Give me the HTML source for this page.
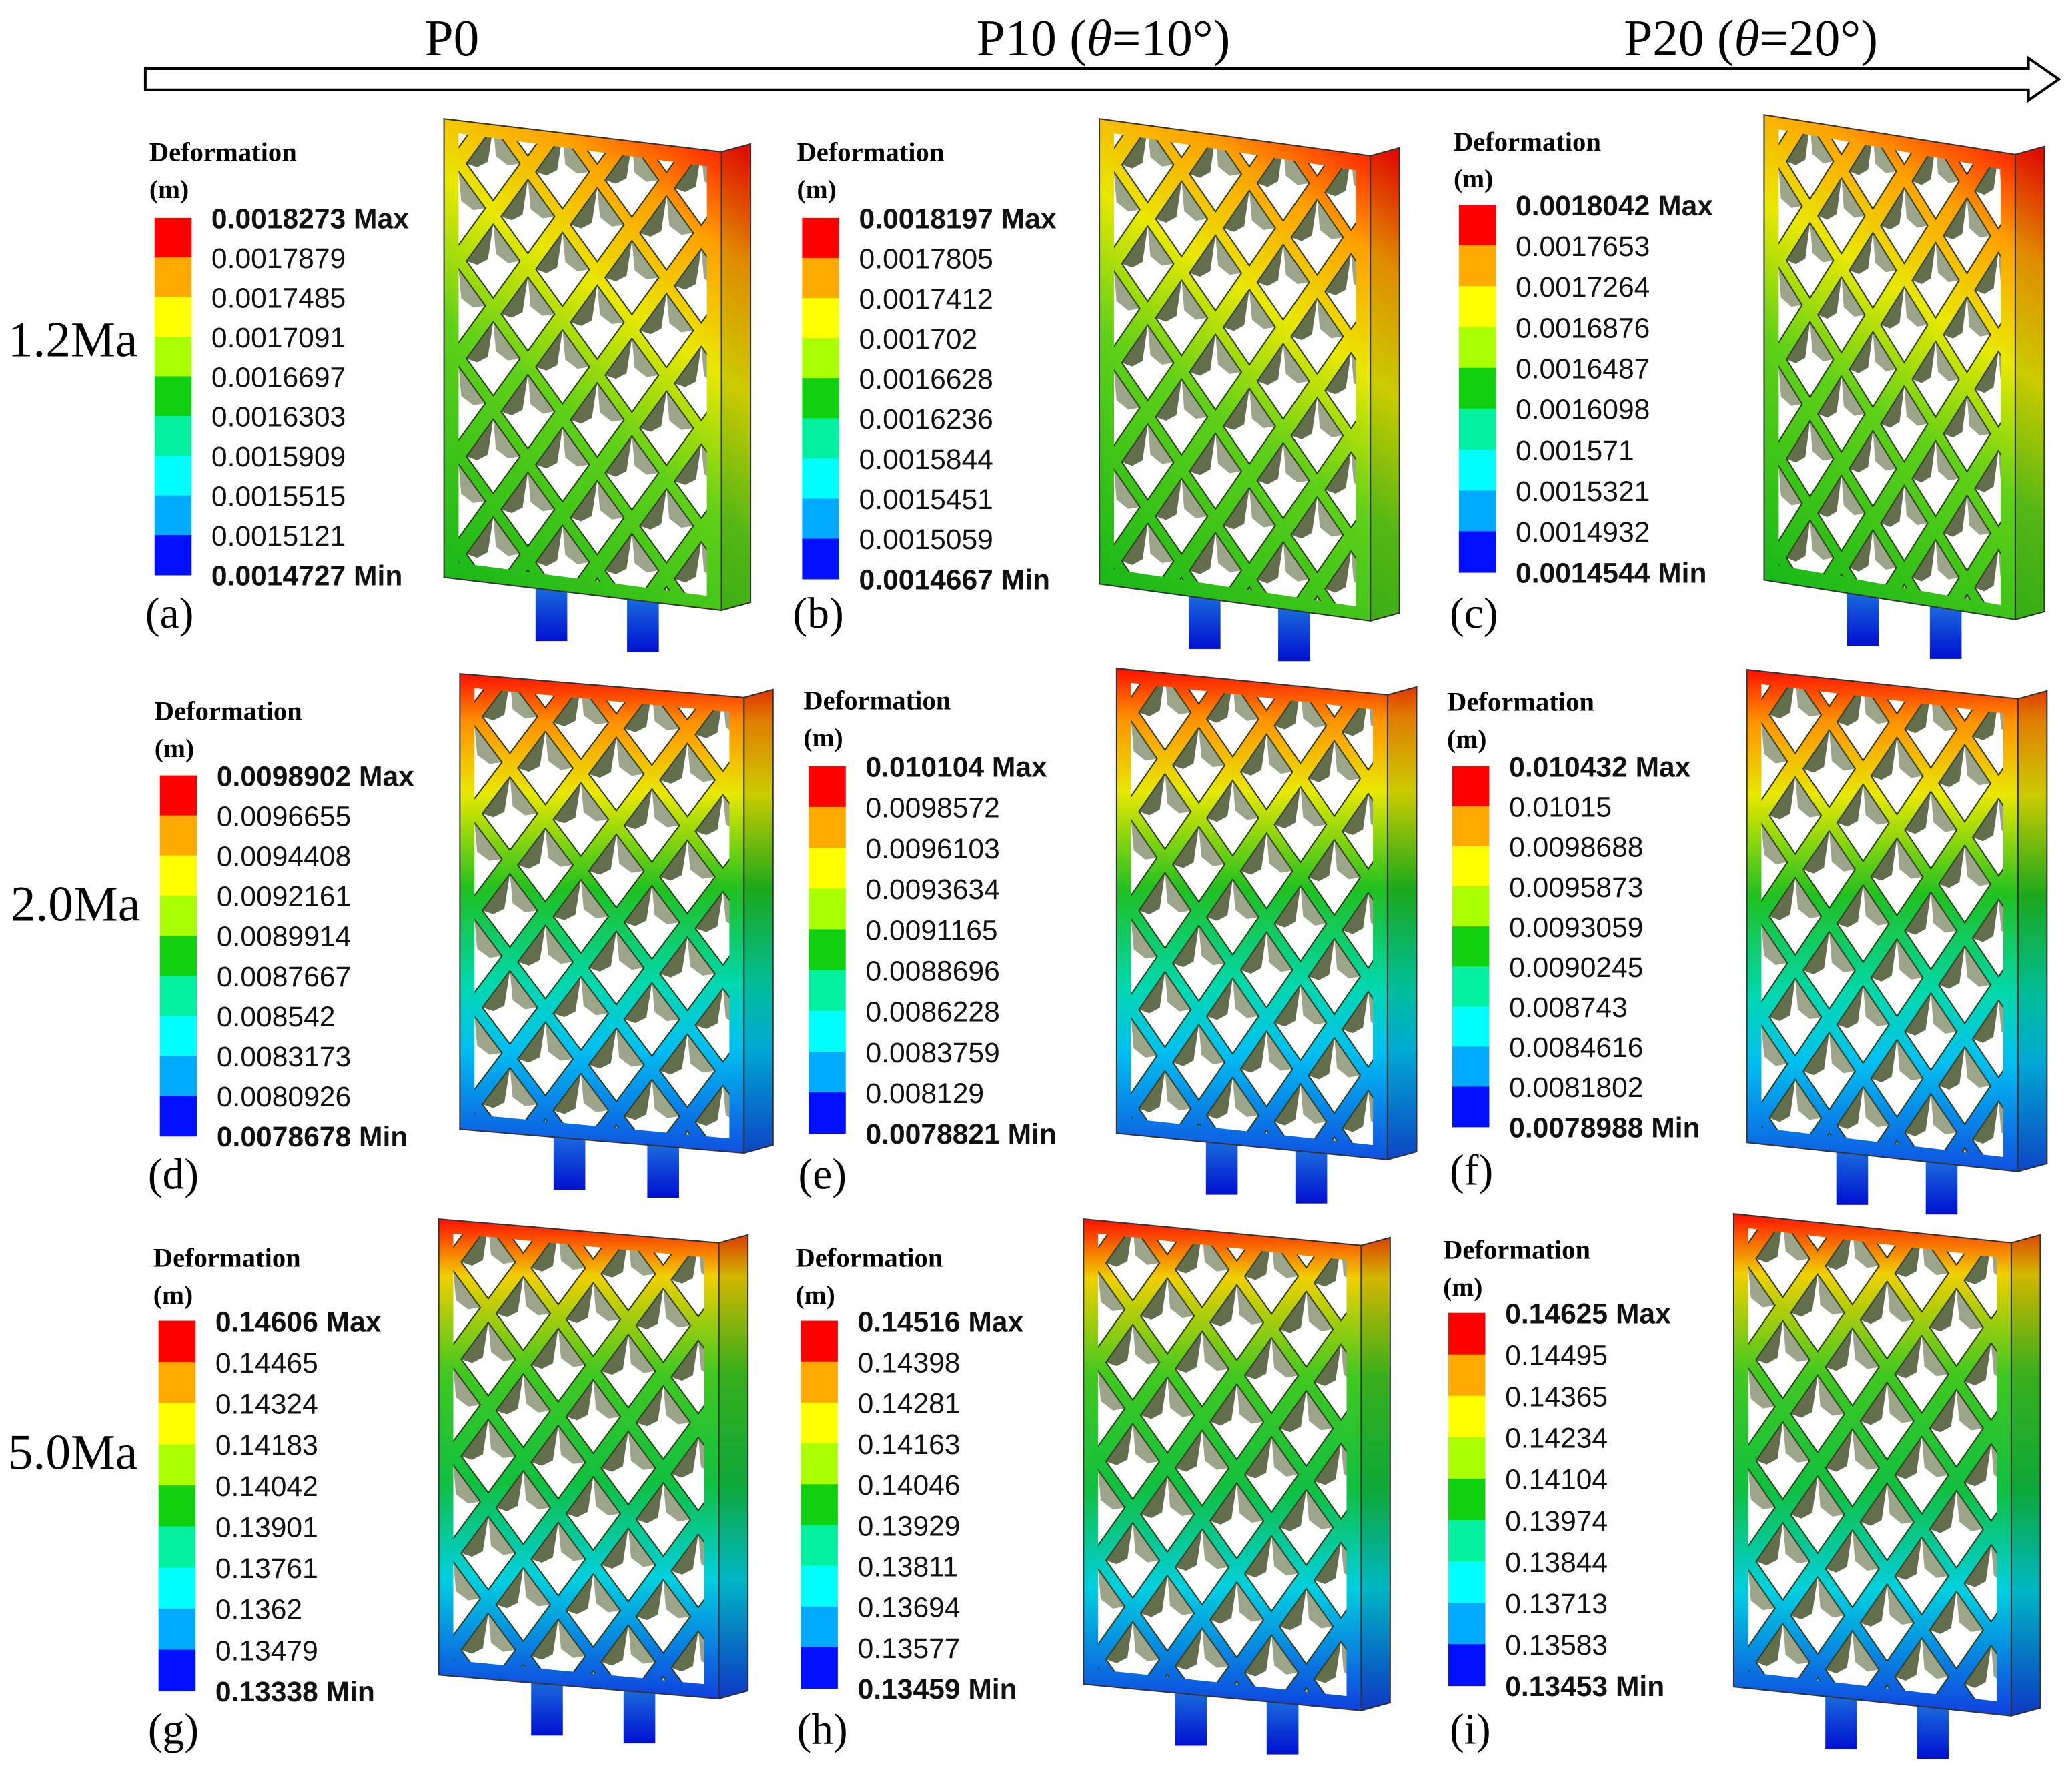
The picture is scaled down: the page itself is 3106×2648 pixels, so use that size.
<!DOCTYPE html>
<html><head><meta charset="utf-8">
<style>html,body{margin:0;padding:0;background:#fff;width:3106px;height:2648px;overflow:hidden}svg{display:block}</style></head>
<body>
<svg id="fig" width="3106" height="2648" viewBox="0 0 1568 1337" preserveAspectRatio="none" xmlns="http://www.w3.org/2000/svg">
<defs>
<linearGradient id="foot" x1="0" y1="0" x2="0" y2="1"><stop offset="0" stop-color="#2080e0"/><stop offset="1" stop-color="#0010d0"/></linearGradient>
</defs>
<g>
<polygon points="110,52 1535,52 1535,44 1558,60 1535,76 1535,68 110,68" fill="#fff" stroke="#000" stroke-width="2"/>
</g>
<g font-family="Liberation Serif, serif" font-size="39" fill="#000">
<text x="342" y="42" text-anchor="middle">P0</text>
<text x="835" y="42" text-anchor="middle">P10 (<tspan font-style="italic">θ</tspan>=10°)</text>
<text x="1325" y="42" text-anchor="middle">P20 (<tspan font-style="italic">θ</tspan>=20°)</text>
<text x="6" y="270" font-size="38">1.2Ma</text>
<text x="8" y="697" font-size="38">2.0Ma</text>
<text x="6" y="1112" font-size="38">5.0Ma</text>
</g>
<g id="panels"></g>
</svg>
<script>
const legendA=["0.0018273","0.0017879","0.0017485","0.0017091","0.0016697","0.0016303","0.0015909","0.0015515","0.0015121","0.0014727"];
const legendB=["0.0018197","0.0017805","0.0017412","0.001702","0.0016628","0.0016236","0.0015844","0.0015451","0.0015059","0.0014667"];
const legendC=["0.0018042","0.0017653","0.0017264","0.0016876","0.0016487","0.0016098","0.001571","0.0015321","0.0014932","0.0014544"];
const legendD=["0.0098902","0.0096655","0.0094408","0.0092161","0.0089914","0.0087667","0.008542","0.0083173","0.0080926","0.0078678"];
const legendE=["0.010104","0.0098572","0.0096103","0.0093634","0.0091165","0.0088696","0.0086228","0.0083759","0.008129","0.0078821"];
const legendF=["0.010432","0.01015","0.0098688","0.0095873","0.0093059","0.0090245","0.008743","0.0084616","0.0081802","0.0078988"];
const legendG=["0.14606","0.14465","0.14324","0.14183","0.14042","0.13901","0.13761","0.1362","0.13479","0.13338"];
const legendH=["0.14516","0.14398","0.14281","0.14163","0.14046","0.13929","0.13811","0.13694","0.13577","0.13459"];
const legendI=["0.14625","0.14495","0.14365","0.14234","0.14104","0.13974","0.13844","0.13713","0.13583","0.13453"];
const bandColors=["#ff0000","#ffaa00","#ffff00","#aaff00","#10d010","#00f0a0","#00ffff","#00aaff","#0010ff"];
const NS="http://www.w3.org/2000/svg";
const root=document.getElementById('panels');
const defs=document.querySelector('defs');
function el(t,a,p){const e=document.createElementNS(NS,t);for(const k in a)e.setAttribute(k,a[k]);(p||root).appendChild(e);return e;}
const grads={
 r1:[[0,"#18b818"],[0.4,"#60d018"],[0.62,"#e8e800"],[0.82,"#ffa000"],[1,"#ff1000"]],
 r2:[[0,"#ff1000"],[0.1,"#ff9000"],[0.25,"#e8e800"],[0.45,"#20c020"],[0.65,"#00d8b0"],[0.78,"#00c0f0"],[1,"#1050e0"]],
 r3:[[0,"#ff1000"],[0.12,"#f0d000"],[0.32,"#40c820"],[0.55,"#10c040"],[0.75,"#00d0e0"],[1,"#1040e0"]]
};
const panels=[
 {id:"a",leg:legendA,lx:113,ty:115,bt:165,bb:435,sx:336,sy:90,w:210,h:347,dy:25,g:"r1",lt:[110,465]},
 {id:"b",leg:legendB,lx:603,ty:115,bt:165,bb:438,sx:832,sy:90,w:205,h:352,dy:28,g:"r1",lt:[600,465]},
 {id:"c",leg:legendC,lx:1100,ty:107,bt:155,bb:433,sx:1335,sy:87,w:190,h:352,dy:30,g:"r1",lt:[1097,465]},
 {id:"d",leg:legendD,lx:117,ty:538,bt:587,bb:860,sx:348,sy:510,w:215,h:345,dy:18,g:"r2",lt:[112,890]},
 {id:"e",leg:legendE,lx:608,ty:530,bt:580,bb:858,sx:845,sy:506,w:205,h:352,dy:20,g:"r2",lt:[604,890]},
 {id:"f",leg:legendF,lx:1095,ty:531,bt:580,bb:853,sx:1322,sy:507,w:205,h:358,dy:22,g:"r2",lt:[1097,887]},
 {id:"g",leg:legendG,lx:116,ty:952,bt:1000,bb:1280,sx:332,sy:923,w:212,h:345,dy:18,g:"r3",lt:[112,1310]},
 {id:"h",leg:legendH,lx:602,ty:952,bt:1000,bb:1278,sx:820,sy:923,w:210,h:352,dy:20,g:"r3",lt:[603,1310]},
 {id:"i",leg:legendI,lx:1092,ty:946,bt:994,bb:1276,sx:1312,sy:919,w:210,h:358,dy:22,g:"r3",lt:[1097,1310]}
];
panels.forEach(p=>{
 const g=el('g',{});
 
 
 const t1=el('text',{x:p.lx,y:p.ty+7,'font-family':'Liberation Serif, serif','font-weight':'bold','font-size':20.5},g);
 t1.textContent='Deformation';
 
 
 const t2=el('text',{x:p.lx,y:p.ty+35,'font-family':'Liberation Serif, serif','font-weight':'bold','font-size':20},g);
 t2.textContent='(m)';
 
 
 const bx=p.lx+4, step=(p.bb-p.bt)/9;
 bandColors.forEach((c,i)=>{
  const r=el('rect',{x:bx,y:p.bt+i*step,width:28,height:step+0.5,fill:c},g);
  
  
 });
 p.leg.forEach((v,i)=>{
  const last=i===p.leg.length-1, first=i===0;
  const t=el('text',{x:bx+43,y:p.bt+i*step+8,'font-family':'Liberation Sans, sans-serif','font-size':21.5,'font-weight':(first||last)?'bold':'normal',fill:'#111'},g);
  t.textContent=v+(first?' Max':last?' Min':'');
  
  
 });
 const lt=el('text',{x:p.lt[0],y:p.lt[1]+10,'font-family':'Liberation Serif, serif','font-size':33},g);
 lt.textContent='('+p.id+')';
 
 
 const isDiag=p.g==="r1";
 const gr=el('linearGradient',{id:'gr'+p.id,gradientUnits:'userSpaceOnUse',x1:isDiag?p.sx:p.sx+p.w/2,y1:isDiag?p.sy+p.h:p.sy,x2:isDiag?p.sx+p.w+20:p.sx+p.w/2,y2:isDiag?p.sy+p.dy:p.sy+p.h+p.dy},defs);
 grads[p.g].forEach(s=>el('stop',{offset:s[0],'stop-color':s[1]},gr));
 const {sx,sy,w,h,dy}=p, sd=22;
 const st=el('g',{},g);
 
 
 [0.33,0.66].forEach(f=>{
  const fx=sx+w*f;
  const fy=sy+h+dy*f-10;
  const r=el('rect',{x:fx,y:fy,width:24,height:Math.min(50,1334-fy),fill:'url(#foot)'},st);
  
  
 });
 el('polygon',{points:`${sx+w},${sy+dy} ${sx+w+sd},${sy+dy-6} ${sx+w+sd},${sy+h+dy-6} ${sx+w},${sy+h+dy}`,fill:'url(#gr'+p.id+')',stroke:'#333','stroke-width':1},st);
 el('polygon',{points:`${sx+w},${sy+dy} ${sx+w+sd},${sy+dy-6} ${sx+w+sd},${sy+h+dy-6} ${sx+w},${sy+h+dy}`,fill:'#000',opacity:0.12},st);
 el('polygon',{points:`${sx},${sy} ${sx+w},${sy+dy} ${sx+w},${sy+h+dy} ${sx},${sy+h}`,fill:'url(#gr'+p.id+')',stroke:'#333','stroke-width':1},st);
 const cp=el('clipPath',{id:'cp'+p.id},defs);
 const ins=11;
 el('polygon',{points:`${sx+ins},${sy+ins} ${sx+w-ins},${sy+dy+ins} ${sx+w-ins},${sy+h+dy-ins} ${sx+ins},${sy+h-ins}`},cp);
 const hg=el('g',{'clip-path':'url(#cp'+p.id+')'},st);
 const a=w/4, b=(h-2*ins)/4.4, hx=a/2-6, hy=b/2-9;
 for(let j=-1;j<12;j++){
  for(let i=-1;i<6;i++){
   const cx=sx+ins+a*i+(j%2?a/2:0)+a/2;
   const cy=sy+ins+b*j/2+(cx-sx)/w*dy+b/4;
   if(cx+hx<sx||cx-hx>sx+w) continue;
   if(cy+hy<sy||cy-hy>sy+h+dy) continue;
   if(cy+hy>1336) continue;
   el('polygon',{points:`${cx-hx},${cy} ${cx},${cy-hy} ${cx+hx},${cy} ${cx},${cy+hy}`,fill:'#fff',stroke:'#2a3a1a','stroke-width':1},hg);
   el('polygon',{points:`${cx-hx},${cy} ${cx},${cy-hy} ${cx-hx*0.2},${cy-hy*0.05} ${cx-hx*0.6},${cy+hy*0.1}`,fill:'#3c4a20',opacity:0.8},hg);
   el('polygon',{points:`${cx},${cy-hy} ${cx+hx},${cy} ${cx+hx*0.55},${cy+hy*0.05} ${cx+hx*0.1},${cy-hy*0.2}`,fill:'#4a5a28',opacity:0.55},hg);
  }
 }
});
</script>
</body></html>
